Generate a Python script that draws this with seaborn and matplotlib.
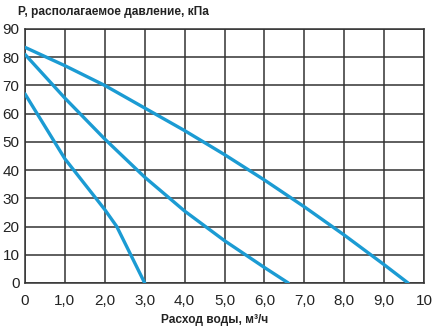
import matplotlib
matplotlib.use("Agg")
import matplotlib.pyplot as plt
import seaborn as sns
import pandas as pd

# Data
x1 = [0.0, 1.0, 2.0, 2.3, 2.65, 3.0]
p1 = [67, 44, 26, 20, 10, 0]
x2 = [0.0, 1.0, 2.0, 3.0, 4.0, 5.0, 6.0, 6.6]
p2 = [81, 65.5, 51, 37.5, 25.5, 15, 5.5, 0]
x3 = [0.0, 1.0, 2.0, 3.0, 4.0, 5.0, 6.0, 7.0, 8.0, 9.0, 9.6]
p3 = [83.5, 77, 70, 62, 54, 45.5, 36.5, 27, 17, 6.5, 0]

xticks = [0, 1, 2, 3, 4, 5, 6, 7, 8, 9, 10]
xticklabels = ["0", "1,0", "2,0", "3,0", "4,0", "5,0", "6,0", "7,0", "8,0", "9,0", "10"]
yticks = [0, 10, 20, 30, 40, 50, 60, 70, 80, 90]

df = pd.concat([
    pd.DataFrame({"x": x1, "p": p1, "c": "1"}),
    pd.DataFrame({"x": x2, "p": p2, "c": "2"}),
    pd.DataFrame({"x": x3, "p": p3, "c": "3"}),
])

sns.set_style("white")
plt.rcParams['font.family'] = ['Liberation Sans', 'DejaVu Sans']

fig = plt.figure(figsize=(4.38, 3.32), dpi=100)
ax = fig.add_axes([25/438, 49/332, 399/438, 254/332])

sns.lineplot(data=df, x="x", y="p", hue="c", units="c", estimator=None, sort=False,
             palette=["#1b9bd3"] * 3, linewidth=2.4, legend=False, ax=ax, zorder=3)

ax.set_xlim(0, 10)
ax.set_ylim(0, 90)
ax.set_xticks(xticks)
ax.set_xticklabels(xticklabels)
ax.set_yticks(yticks)
ax.grid(True, color="#333333", linewidth=1.1)
for s in ax.spines.values():
    s.set_color("#333333")
    s.set_linewidth(1.1)
ax.tick_params(axis="both", direction="out", length=3, width=1.1, color="#333333",
               labelsize=11, labelcolor="#222222")
ax.tick_params(axis="x", pad=5)
ax.tick_params(axis="y", pad=1)
ax.set_xlabel("")
ax.set_ylabel("")

fig.text(18/438, 1 - 12/332, "P, располагаемое давление, кПа", fontsize=8.6,
         fontweight="bold", va="center", ha="left", color="#222222")
fig.text(215/438, 1 - 320/332, "Расход воды, м³/ч", fontsize=8.6,
         fontweight="bold", va="center", ha="center", color="#222222")

fig.savefig("out.png", dpi=100)
